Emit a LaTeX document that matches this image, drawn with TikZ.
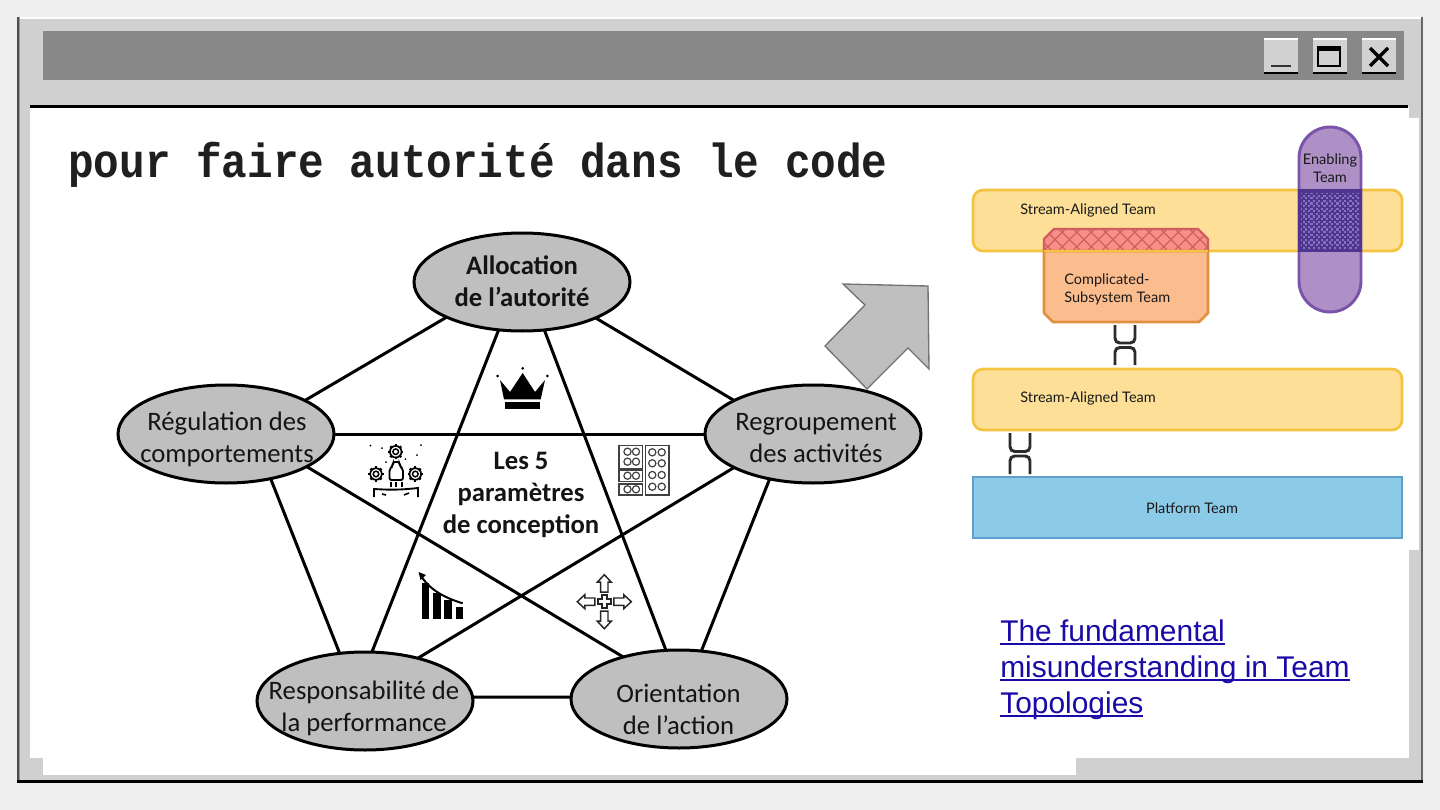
\documentclass[tikz,border=0pt]{standalone}
\usepackage{fontspec}
\setmainfont{Carlito}
\newfontfamily\monof{Liberation Mono}
\newfontfamily\linkf{Liberation Sans}
\newfontfamily\teamf{Lato}
\usetikzlibrary{shapes.geometric}
\definecolor{pagebg}{HTML}{EEEEEE}
\definecolor{winbg}{HTML}{D0D0D0}
\definecolor{titlebg}{HTML}{888888}
\definecolor{ovalbg}{HTML}{BFBFBF}
\definecolor{streamfill}{HTML}{FDDF97}
\definecolor{streamedge}{HTML}{F4C440}
\definecolor{cfill}{HTML}{FCBD8E}
\definecolor{cedge}{HTML}{E0913E}
\definecolor{hfill}{HTML}{F78F88}
\definecolor{hline}{HTML}{CF5F5E}
\definecolor{efill}{HTML}{AE90C6}
\definecolor{eedge}{HTML}{7A54A8}
\definecolor{edark}{HTML}{4E358F}
\definecolor{edot}{HTML}{8571BC}
\definecolor{pfill}{HTML}{8CCBE8}
\definecolor{pedge}{HTML}{5F9FCD}
\definecolor{linkc}{HTML}{1A0AA8}
\definecolor{chainc}{HTML}{2B2B2B}
\newlength\lnkw
\newcommand\lnk[1]{\settowidth\lnkw{#1}\rlap{\rule[-2.4pt]{\lnkw}{1.5pt}}#1}
\newcommand\geargl[2]{%
  \draw[icon,line width=1.3pt] (#1,#2) circle[radius=5.8];
  \draw[icon,line width=1.1pt] (#1,#2) circle[radius=2.8];
  \foreach \ga in {0,45,...,315}{\draw[icon,line width=1.7pt] (#1,#2) ++(\ga:5.8) -- ++(\ga:1.9);}
}
\tikzset{
  x=.75pt,y=-.75pt,
  oval/.style={ellipse,draw=black,fill=ovalbg,line width=2.25pt,minimum width=162pt,minimum height=73.5pt,inner sep=0pt,outer sep=0pt},
  ovaltext/.style={align=center,font=\fontsize{20pt}{24pt}\selectfont,text=black!92,inner sep=0pt},
  boldtext/.style={align=center,font=\bfseries\fontsize{20pt}{24pt}\selectfont,text=black!92,inner sep=0pt},
  link/.style={line width=2.25pt,black},
  winbtn/.style={fill=winbg!95!white,draw=none},
  team/.style={rounded corners=7.5pt,line width=2pt},
  teamtext/.style={font=\teamf\fontsize{10.9pt}{13.5pt}\selectfont,text=black!90,inner sep=0pt,align=left},
  chain/.style={draw=chainc,line width=2.2pt,rounded corners=3.5pt},
  icon/.style={draw=black,line width=1pt},
  linktext/.style={font=\linkf\fontsize{22.45pt}{27pt}\selectfont,text=linkc,inner sep=0pt,align=left,anchor=north west}
}
\begin{document}
\begin{tikzpicture}
\useasboundingbox (0,0) rectangle (1440,810);
\fill[pagebg] (0,0) rectangle (1440,810);
% window
\fill[winbg] (17,17) rectangle (1423,783);
\fill[white] (17,16.5) rectangle (1423,19);
\fill[black!70] (17,17) rectangle (18.5,783);
\fill[black!40] (18.5,17) rectangle (20,783);
\fill[black!60] (1421,17) rectangle (1423,783);
\fill[black] (17,780) rectangle (1423,783);
\fill[titlebg] (43,31) rectangle (1404,80);
% content
\fill[white] (30,107) rectangle (1409,758);
\fill[white] (43,750) rectangle (1076,775);
\fill[white] (1405,118) rectangle (1419,550);
\fill[black] (30,104.5) rectangle (1408,108);
% buttons
\foreach \bx in {1264,1313,1362}{
  \fill[winbtn] (\bx,38) rectangle (\bx+34,72);
  \fill[white] (\bx,37.5) rectangle (\bx+34,39.5);
  \fill[black] (\bx,72) rectangle (\bx+34,73.5);
}
\fill[black!80] (1271,65) rectangle (1291,67);
\draw[black,line width=1pt] (1318,47) rectangle (1340,66);
\fill[black] (1317,46) rectangle (1341,51);
\draw[black,line width=2.6pt] (1370,48) -- (1388,66) (1388,48) -- (1370,66);
% title
\node[font=\monof\bfseries\fontsize{32pt}{32pt}\selectfont,text=black!88,anchor=base west,inner sep=0pt] (title) at (68,177) {\scalebox{1}[1.12]{pour faire autorité dans le code}};
% arrow
\filldraw[fill=ovalbg,draw=black!55,line width=1pt] (843,284) -- (928,286) -- (929,369) -- (908,348) -- (867,389) -- (825,346) -- (865,305) -- cycle;
% ovals
\node[oval] (alloc) at (522,282) {};
\node[oval] (regr) at (813,434) {};
\node[oval] (regu) at (226,434) {};
\node[oval] (resp) at (365,701) {};
\node[oval] (orie) at (679,699) {};
\draw[link] (alloc.205) -- (regu.23);
\draw[link] (alloc.334) -- (regr.157.6);
\draw[link] (alloc.244) -- (resp.82);
\draw[link] (alloc.295) -- (orie.105);
\draw[link] (regr.226) -- (orie.65);
\draw[link] (regr.180) -- (regu.0);
\draw[link] (regr.203) -- (resp.39);
\draw[link] (regu.-45) -- (resp.118);
\draw[link] (regu.-22.4) -- (orie.143.6);
\draw[link] (resp.2) -- (orie.179);
\node[boldtext] (allocT) at (522,281) {Allocation\\de l’autorité};
\node[ovaltext] (regrT) at (816,438) {Regroupement\\des activités};
\node[ovaltext] (reguT) at (227,439) {Régulation des\\comportements};
\node[ovaltext] (respT) at (364,708.5) {Responsabilité de\\la performance};
\node[ovaltext] (orieT) at (678.5,709) {Orientation\\de l’action};
\node[boldtext] (centre) at (521,495) {Les 5\\paramètres\\de conception};
% crown
\fill[black] (500,380) -- (510,392) -- (522.7,373) -- (535,392) -- (545,380) -- (540.7,399.3) -- (504,399.3) -- cycle;
\fill[black] (505,401.7) rectangle (540,409);
\fill[black] (497.7,376) circle[radius=1.5] (522.7,368.3) circle[radius=1.5] (547.3,376) circle[radius=1.5];
% gears icon
\geargl{395.7}{451.7}\geargl{376}{474}\geargl{415.3}{474}
\draw[icon,line width=1.4pt,rounded corners=1.5pt] (389.5,480) -- (389.5,469) -- (393,465.5) -- (393,462) -- (399.5,462) -- (399.5,465.5) -- (403,469) -- (403,480) -- cycle;
\draw[icon,line width=1.4pt] (374,497) -- (374,489) .. controls (390,490) and (400,490) .. (418,488) -- (418,497);
\draw[icon,line width=1.2pt] (382,494) -- (386,495) (404,495) -- (409,493);
\draw[icon,line width=1.3pt] (391,482) -- (391,487) (396,482) -- (396,487) (402,482) -- (402,487);
\fill[black] (370.5,445.5) circle[radius=1] (382,448) circle[radius=1] (421,445) circle[radius=1] (417,455) circle[radius=1] (405.5,459) circle[radius=1] (386,462) circle[radius=1];
% modules icon
\begin{scope}[draw=black!75,line width=.9pt]
\draw (619,445.7) rectangle (642.7,468.3);
\draw (619,470) rectangle (642.7,481.7);
\draw (619,484) rectangle (642.7,495);
\draw (645.3,445.7) rectangle (669,495);
\foreach \cx/\cy in {627.5/451.7,636/451.7,627.5/461.7,636/461.7,627.5/475.7,636/475.7,627.5/489.3,636/489.3,652.3/452.3,661.7/452.3,652.3/463.3,661.7/463.3,652.3/475,661.7/475,652.3/486.7,661.7/486.7}
  \draw (\cx,\cy) circle[radius=3.6];
\end{scope}
% chart
\fill[black] (421.7,583) rectangle (429.3,619.3);
\fill[black] (433.3,593) rectangle (440.7,619.3);
\fill[black] (444.3,600) rectangle (451.7,619.3);
\fill[black] (455.7,607) rectangle (462.7,619.3);
\draw[black,line width=1.5pt] (462.7,603.3) .. controls (445,598) and (430,590) .. (421,576);
\fill[black] (418.5,572) -- (426,575) -- (420.5,580) -- cycle;
% cross of arrows
\begin{scope}[shift={(604.3,601.7)}]
\draw[black!85,line width=1.1pt] (-2.5,-6.5) -- (2.5,-6.5) -- (2.5,-2.5) -- (6.5,-2.5) -- (6.5,2.5) -- (2.5,2.5) -- (2.5,6.5) -- (-2.5,6.5) -- (-2.5,2.5) -- (-6.5,2.5) -- (-6.5,-2.5) -- (-2.5,-2.5) -- cycle;
\foreach \ra in {0,90,180,270}{
  \draw[black!85,line width=1.1pt,rotate=\ra] (-3.7,-9.5) -- (-3.7,-19.5) -- (-7,-19.5) -- (0,-27) -- (7,-19.5) -- (3.7,-19.5) -- (3.7,-9.5) -- cycle;
}
\end{scope}
% right panel
\filldraw[team,draw=streamedge,fill=streamfill] (973,190) rectangle (1402,251);
\filldraw[draw=eedge,fill=efill,line width=2.2pt] (1299,158) arc[start angle=180,end angle=360,radius=31] -- (1361,281) arc[start angle=0,end angle=180,radius=31] -- cycle;
\fill[edark] (1298,189) rectangle (1362,252);
\begin{scope}
\clip (1301,193) rectangle (1360,248);
\foreach \ix in {0,...,24}{\foreach \iy in {0,...,22}{
  \pgfmathtruncatemacro\ip{mod(\ix+\iy,2)}
  \ifnum\ip=0\fill[edot] (1300+\ix*2.6,192+\iy*2.6) rectangle ++(2.1,2.1);\fi
}}
\end{scope}
\fill[hfill] (1044,239) -- (1054,229) -- (1198,229) -- (1208,239) -- (1208,250) -- (1044,250) -- cycle;
\begin{scope}
\clip (1044,239) -- (1054,229) -- (1198,229) -- (1208,239) -- (1208,250) -- (1044,250) -- cycle;
\foreach \hx in {1030,1044.5,...,1220}{
  \draw[hline,line width=.9pt] (\hx,229) -- (\hx+21,250);
  \draw[hline,line width=.9pt] (\hx,250) -- (\hx+21,229);
}
\end{scope}
\filldraw[draw=cedge,fill=cfill,line width=2pt] (1044,251) -- (1044,313) -- (1053,322) -- (1199,322) -- (1208,313) -- (1208,251) -- cycle;
\draw[draw=hline,line width=1.8pt] (1044,250) -- (1044,239) -- (1054,229) -- (1198,229) -- (1208,239) -- (1208,250);
\draw[streamedge,line width=2pt] (1044,251) -- (1208,251);
\filldraw[team,draw=streamedge,fill=streamfill] (973,369) rectangle (1402,430);
\filldraw[draw=pedge,fill=pfill,line width=2pt] (973,477) rectangle (1402,538);
\node[teamtext,anchor=west] (s1) at (1020,210) {Stream-Aligned Team};
\node[teamtext,anchor=west] (s2) at (1020,398) {Stream-Aligned Team};
\node[teamtext,anchor=west] (c1) at (1064,289) {Complicated-\\Subsystem Team};
\node[teamtext,anchor=center,align=center] (en) at (1330,168) {Enabling\\Team};
\node[teamtext,anchor=center] (pl) at (1192,508) {Platform Team};
% chains
\draw[chain] (1115,325) -- (1115,343) -- (1135,343) -- (1135,325);
\draw[chain] (1115,365) -- (1115,347.5) -- (1135,347.5) -- (1135,365);
\draw[chain] (1010,433) -- (1010,451.5) -- (1030,451.5) -- (1030,433);
\draw[chain] (1010,474) -- (1010,456) -- (1030,456) -- (1030,474);
% link
\node[linktext] (lnk) at (1000,620) {\lnk{The fundamental}\\\lnk{misunderstanding in Team}\\\lnk{Topologies}};
\end{tikzpicture}
\end{document}
